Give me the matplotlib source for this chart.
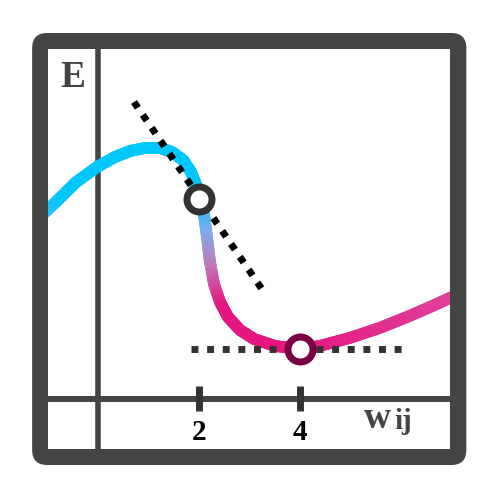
"""
Curva de energía E(w_ij) con tangentes y mínimo
"""
import numpy as np
import matplotlib
matplotlib.use('Agg')
import matplotlib.pyplot as plt
from matplotlib.collections import LineCollection
from matplotlib.patches import FancyBboxPatch, Rectangle
from matplotlib.colors import LinearSegmentedColormap

# datos (w, E)
curve_w = [-1.100, -0.766, -0.468, -0.030, 0.328, 0.627, 0.925, 1.224, 1.463,
           1.682, 1.841, 1.960, 2.000, 2.100, 2.159, 2.219, 2.299, 2.418, 2.577,
           2.816, 3.095, 3.513, 4.000, 4.398, 4.995, 5.592, 6.189, 6.687, 7.100]
curve_E = [3.70, 4.02, 4.32, 4.64, 4.84, 4.96, 5.02, 5.02, 4.94,
           4.78, 4.54, 4.24, 4.00, 3.68, 3.24, 2.74, 2.30, 1.94, 1.64,
           1.38, 1.20, 1.06, 1.00, 1.06, 1.22, 1.42, 1.66, 1.88, 2.07]

tangent_w = [0.706, 3.333]
tangent_E = [5.94, 2.08]
flat_w = [1.841, 6.139]
flat_E = [1.0, 1.0]

points_w = [2, 4]
points_E = [4.0, 1.0]
point_colors = ['#333333', '#7a0043']

tick_w = [2, 4]
tick_labels = ['2', '4']

grad = LinearSegmentedColormap.from_list(
    'grad', [(0.0, '#00c8ff'), (0.35, '#7eacec'), (0.65, '#c27abb'), (1.0, '#e5167f')])
pink_right = LinearSegmentedColormap.from_list('pr', ['#e5167f', '#e0409a'])

fig = plt.figure(figsize=(4.99, 5.01), dpi=100)
ax = fig.add_axes([0, 0, 1, 1])
ax.set_xlim(-1.960, 7.970)
ax.set_ylim(-2.04, 7.98)
ax.axis('off')

# marco redondeado
frame = FancyBboxPatch((-1.32, -1.32), 8.64, 8.64,
                       boxstyle='round,pad=0,rounding_size=0.3',
                       facecolor='#444444', edgecolor='none', zorder=0)
ax.add_patch(frame)
inner = Rectangle((-1.0, -1.0), 8.0, 8.0, facecolor='white',
                  edgecolor='none', zorder=0.5)
ax.add_patch(inner)

# ejes
ax.plot([0, 0], [-1, 7], color='#444444', lw=4.0, solid_capstyle='butt', zorder=1)
ax.plot([-1, 7], [0, 0], color='#444444', lw=4.3, solid_capstyle='butt', zorder=1)
for w in tick_w:
    ax.plot([w, w], [0.26, -0.24], color='#333333', lw=5, solid_capstyle='butt', zorder=1)

# curva con degradado (cada tramo se parte en trozos solo para el color)
w = np.array(curve_w)
E = np.array(curve_E)
segs, cols = [], []
n_sub = 12
for i in range(len(w) - 1):
    for k in range(n_sub):
        a, b = k / n_sub, (k + 1) / n_sub
        p0 = (w[i] + (w[i + 1] - w[i]) * a, E[i] + (E[i + 1] - E[i]) * a)
        p1 = (w[i] + (w[i + 1] - w[i]) * b, E[i] + (E[i + 1] - E[i]) * b)
        segs.append([p0, p1])
        wm = (p0[0] + p1[0]) / 2
        em = (p0[1] + p1[1]) / 2
        if wm < 4:
            cols.append(grad(np.clip((4.05 - em) / (4.05 - 1.8), 0, 1)))
        else:
            cols.append(pink_right(np.clip((wm - 4.0) / 3.0, 0, 1)))
lc = LineCollection(segs, colors=cols, linewidths=8.5, capstyle='round',
                    joinstyle='round', zorder=2)
ax.add_collection(lc)
lc.set_clip_path(inner)

# tangentes punteadas
ax.plot(tangent_w, tangent_E, color='black', lw=5, dashes=(1, 1.25),
        dash_capstyle='butt', zorder=3)
ax.plot(flat_w, flat_E, color='#333333', lw=5, dashes=(1, 1.25),
        dash_capstyle='butt', zorder=3)

# puntos
for pw, pE, pc in zip(points_w, points_E, point_colors):
    ax.plot(pw, pE, 'o', ms=18, mfc='white', mec=pc, mew=5, zorder=4)

# textos
serif = ['Liberation Serif', 'DejaVu Serif']
for tw, tl in zip(tick_w, tick_labels):
    ax.text(tw, -0.82, tl, ha='center', va='baseline', fontsize=21,
            fontweight='bold', family=serif, color='black')
ax.text(-0.5, 6.24, 'E', ha='center', va='baseline', fontsize=27,
        fontweight='bold', family=serif, color='#444444')
ax.text(5.28, -0.58, 'w', ha='left', va='baseline', fontsize=27,
        fontweight='bold', family=serif, color='#444444')
ax.text(5.88, -0.60, 'ij', ha='left', va='baseline', fontsize=21,
        fontweight='bold', family=serif, color='#444444')

fig.savefig('out.png', dpi=100)
